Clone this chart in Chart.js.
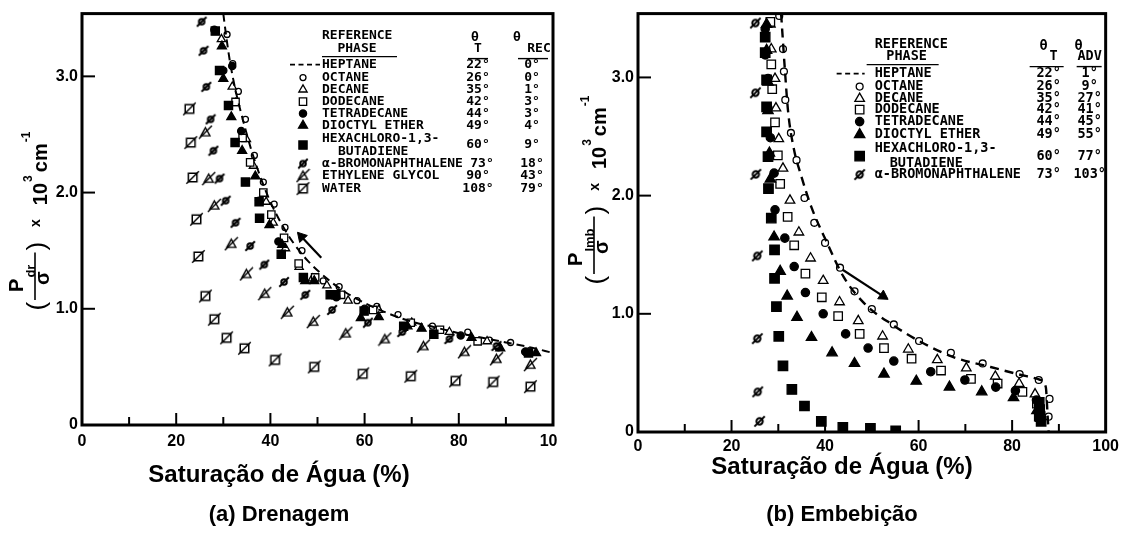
<!DOCTYPE html>
<html><head><meta charset="utf-8">
<script src="https://cdn.jsdelivr.net/npm/chart.js@4.4.0/dist/chart.umd.min.js"></script>
<style>
html,body{margin:0;padding:0;background:#fff;}
#wrap{position:relative;width:1126px;height:535px;overflow:hidden;background:#fff;}
#left{position:absolute;left:0;top:0;width:558px;height:535px;overflow:hidden;}
#right{position:absolute;left:558px;top:0;width:568px;height:535px;}
canvas{display:block;}
</style></head><body>
<div id="wrap">
  <div id="left"><canvas id="c1" width="580" height="535"></canvas></div>
  <div id="right"><canvas id="c2" width="568" height="535"></canvas></div>
</div>
<script>
// ================= DATA =================
const xAxisTitle = 'Saturação de Água (%)';
const drCaption = '(a) Drenagem';
const imCaption = '(b) Embebição';

// ---- (a) Drainage ----
const drHeptaneX = [30.0, 30.6, 31.4, 32.6, 34.2, 36.0, 38.0, 40.0, 42.5, 45.0, 48.0, 52.0, 56.0, 60.0, 65.0, 70.0, 75.0, 80.0, 85.0, 90.0, 95.0, 100];
const drHeptaneY = [3.54, 3.35, 3.13, 2.88, 2.62, 2.36, 2.12, 1.92, 1.72, 1.56, 1.41, 1.26, 1.14, 1.05, 0.96, 0.89, 0.84, 0.79, 0.75, 0.71, 0.67, 0.62];
const drOctaneX = [30.8, 32.0, 33.2, 34.7, 36.6, 38.5, 40.8, 43.1, 46.7, 51.2, 54.6, 58.4, 62.6, 67.1, 74.4, 81.9, 86.5, 91.0];
const drOctaneY = [3.36, 3.11, 2.87, 2.63, 2.32, 2.09, 1.90, 1.70, 1.50, 1.24, 1.19, 1.07, 1.02, 0.95, 0.85, 0.80, 0.73, 0.71];
const drDecaneX = [29.6, 31.9, 32.6, 34.9, 36.4, 39.1, 40.6, 43.2, 46.1, 48.9, 52.0, 56.5, 63.0, 70.0, 78.0, 86.0, 94.8];
const drDecaneY = [3.32, 2.91, 2.77, 2.46, 2.23, 1.92, 1.74, 1.52, 1.36, 1.26, 1.20, 1.07, 0.99, 0.88, 0.80, 0.72, 0.62];
const drDodecaneX = [32.6, 34.1, 35.7, 38.5, 40.2, 42.9, 46.0, 49.5, 55.0, 61.8, 69.8, 76.0, 84.0, 94.8];
const drDodecaneY = [2.78, 2.47, 2.26, 2.00, 1.81, 1.61, 1.39, 1.27, 1.12, 0.99, 0.88, 0.82, 0.72, 0.63];
const drTetradecaneX = [28.1, 30.0, 31.9, 33.8, 37.6, 41.7, 47.0, 54.0, 60.0, 68.3, 80.4, 88.4, 94.1];
const drTetradecaneY = [3.40, 3.05, 3.09, 2.53, 1.93, 1.58, 1.27, 1.10, 1.00, 0.83, 0.77, 0.67, 0.63];
const drDioctylX = [29.7, 30.0, 31.7, 34.0, 36.8, 39.8, 42.5, 47.4, 49.3, 59.2, 63.0, 69.1, 72.1, 82.7, 88.8, 96.4];
const drDioctylY = [3.26, 2.98, 2.65, 2.36, 2.14, 1.72, 1.55, 1.24, 1.24, 0.92, 0.93, 0.85, 0.83, 0.75, 0.66, 0.62];
const drHexachloroX = [28.3, 29.2, 31.1, 32.5, 34.7, 37.6, 37.7, 42.3, 47.0, 52.7, 53.9, 59.9, 68.3, 74.7, 94.8];
const drHexachloroY = [3.39, 3.05, 2.75, 2.43, 2.09, 1.92, 1.78, 1.47, 1.27, 1.12, 1.12, 0.98, 0.85, 0.78, 0.62];
const drBromoX = [25.4, 25.8, 26.4, 27.3, 27.9, 29.2, 30.5, 32.6, 35.7, 38.7, 42.9, 47.4, 53.1, 60.7, 68.0, 78.0, 88.0];
const drBromoY = [3.47, 3.22, 2.91, 2.63, 2.36, 2.12, 1.93, 1.74, 1.54, 1.38, 1.23, 1.12, 0.99, 0.88, 0.80, 0.74, 0.68];
const drGlycolX = [26.2, 26.9, 28.1, 31.7, 34.9, 38.8, 43.6, 49.1, 56.0, 64.3, 72.5, 81.2, 88.0, 95.2];
const drGlycolY = [2.52, 2.12, 1.89, 1.56, 1.30, 1.13, 0.97, 0.89, 0.79, 0.74, 0.68, 0.63, 0.57, 0.52];
const drWaterX = [22.8, 23.1, 23.5, 24.3, 24.7, 26.2, 28.1, 30.7, 34.5, 41.0, 49.3, 59.6, 69.8, 79.3, 87.3, 95.2];
const drWaterY = [2.72, 2.43, 2.13, 1.77, 1.45, 1.11, 0.91, 0.75, 0.66, 0.56, 0.50, 0.44, 0.42, 0.38, 0.37, 0.33];
const drArrowX = [50.8, 46.6];
const drArrowY = [1.44, 1.62];

// ---- (b) Imbibition ----
const imHeptaneX = [30.6, 31.4, 32.1, 33.3, 34.8, 37.1, 40.2, 44.0, 48.6, 54.7, 60.1, 67.7, 75.4, 82.2, 86.1, 87.2, 87.6, 87.8];
const imHeptaneY = [3.54, 3.07, 2.71, 2.40, 2.18, 1.90, 1.62, 1.31, 1.08, 0.90, 0.77, 0.63, 0.55, 0.48, 0.44, 0.38, 0.13, 0.0];
const imOctaneX = [30.2, 31.0, 31.2, 31.5, 32.7, 33.9, 35.6, 37.7, 40.0, 43.2, 46.3, 50.0, 54.7, 60.1, 66.9, 73.7, 81.6, 85.7, 88.0, 87.8];
const imOctaneY = [3.52, 3.24, 3.05, 2.81, 2.53, 2.30, 1.98, 1.77, 1.60, 1.39, 1.19, 1.04, 0.91, 0.77, 0.67, 0.58, 0.49, 0.44, 0.28, 0.13];
const imDecaneX = [28.3, 28.5, 29.3, 29.5, 30.1, 31.0, 32.5, 34.4, 36.9, 39.6, 43.1, 47.1, 52.3, 57.8, 64.0, 70.2, 76.4, 81.5, 84.9, 85.7];
const imDecaneY = [3.45, 3.24, 2.99, 2.74, 2.48, 2.23, 1.96, 1.69, 1.47, 1.28, 1.10, 0.94, 0.81, 0.70, 0.61, 0.54, 0.47, 0.41, 0.32, 0.20];
const imDodecaneX = [28.3, 28.5, 28.7, 29.3, 29.9, 30.4, 32.0, 33.4, 35.8, 39.3, 42.8, 47.4, 52.6, 58.5, 64.8, 71.2, 76.9, 82.2, 85.3, 85.7];
const imDodecaneY = [3.47, 3.11, 2.90, 2.62, 2.34, 2.10, 1.82, 1.58, 1.34, 1.14, 0.98, 0.83, 0.71, 0.62, 0.52, 0.45, 0.41, 0.34, 0.24, 0.13];
const imTetradecaneX = [27.2, 27.2, 27.8, 27.8, 28.3, 29.1, 29.3, 31.4, 33.4, 35.8, 39.6, 44.4, 49.2, 54.7, 62.6, 69.9, 76.5, 80.7, 85.2, 85.7];
const imTetradecaneY = [3.41, 3.19, 2.99, 2.74, 2.49, 2.19, 1.88, 1.64, 1.40, 1.18, 1.00, 0.83, 0.71, 0.60, 0.51, 0.44, 0.38, 0.35, 0.27, 0.15];
const imDioctylX = [27.5, 27.5, 27.8, 27.8, 28.1, 28.3, 29.1, 30.4, 31.9, 34.0, 37.1, 41.5, 46.3, 52.6, 59.5, 66.6, 73.5, 80.3, 85.3];
const imDioctylY = [3.45, 3.23, 2.96, 2.72, 2.36, 2.14, 1.65, 1.36, 1.15, 0.97, 0.80, 0.67, 0.58, 0.49, 0.43, 0.38, 0.34, 0.29, 0.18];
const imHexachloroX = [27.2, 27.2, 27.5, 27.5, 27.5, 27.8, 27.9, 28.5, 29.2, 29.2, 29.6, 30.1, 31.0, 32.9, 35.6, 39.2, 43.8, 49.7, 55.1, 85.8, 85.9, 86.0, 86.2];
const imHexachloroY = [3.34, 3.21, 2.98, 2.75, 2.54, 2.33, 2.06, 1.81, 1.54, 1.30, 1.06, 0.81, 0.56, 0.36, 0.22, 0.09, 0.04, 0.03, 0.01, 0.25, 0.19, 0.13, 0.09];
const imBromoX = [25.1, 25.1, 25.2, 25.5, 25.5, 25.6, 26.0];
const imBromoY = [3.46, 2.87, 2.18, 1.49, 0.79, 0.34, 0.09];
const imArrowX = [43.1, 52.4];
const imArrowY = [1.39, 1.15];

// ---- legend tables ----
const drLegendNames = ['HEPTANE', 'OCTANE', 'DECANE', 'DODECANE', 'TETRADECANE', 'DIOCTYL ETHER', ['HEXACHLORO-1,3-', 'BUTADIENE'], 'α-BROMONAPHTHALENE', 'ETHYLENE GLYCOL', 'WATER'];
const drThetaT = ['22°', '26°', '35°', '42°', '44°', '49°', '60°', '73°', '90°', '108°'];
const drThetaRec = ['0°', '0°', '1°', '3°', '3°', '4°', '9°', '18°', '43°', '79°'];
const imLegendNames = ['HEPTANE', 'OCTANE', 'DECANE', 'DODECANE', 'TETRADECANE', 'DIOCTYL ETHER', ['HEXACHLORO-1,3-', 'BUTADIENE'], 'α-BROMONAPHTHALENE'];
const imThetaT = ['22°', '26°', '35°', '42°', '44°', '49°', '60°', '73°'];
const imThetaAdv = ['1°', '9°', '27°', '41°', '45°', '55°', '77°', '103°'];
const xTickStep = 10;
const yTickStep = 1;

// ================= RENDERING =================
const FONT = '"Liberation Sans", Arial, Helvetica, sans-serif';
const LFONT = '"DejaVu Sans Mono", monospace';
Chart.defaults.font.family = FONT;
Chart.defaults.color = '#000';

function pts(xs, ys) { return xs.map((x, i) => ({x: x, y: ys[i]})); }

function slashCanvas(shape, s, lw, fill) {
  const pad = 3;
  const c = document.createElement('canvas');
  c.width = c.height = Math.ceil(s + 2 * pad);
  const g = c.getContext('2d');
  g.strokeStyle = '#000'; g.lineWidth = lw; g.fillStyle = fill || '#fff';
  const cx = c.width / 2, cy = c.height / 2, h = s / 2;
  g.beginPath();
  if (shape === 'circle') g.arc(cx, cy, h, 0, Math.PI * 2);
  else if (shape === 'rect') g.rect(cx - h, cy - h, s, s);
  else { g.moveTo(cx, cy - h); g.lineTo(cx + h, cy + h * 0.8); g.lineTo(cx - h, cy + h * 0.8); g.closePath(); }
  g.fill(); g.stroke();
  g.beginPath(); g.moveTo(cx - h - 2, cy + h + 2); g.lineTo(cx + h + 2, cy - h - 2); g.stroke();
  return c;
}

function markerStyles(k) {
  return {
    octane: {pointStyle: 'circle', radius: 3 * k, fill: '#fff'},
    decane: {pointStyle: 'triangle', radius: 4.8 * k, fill: '#fff'},
    dodecane: {pointStyle: 'rect', radius: 5.2 * k, fill: '#fff'},
    tetradecane: {pointStyle: 'circle', radius: 3.6 * k, fill: '#000'},
    dioctyl: {pointStyle: 'triangle', radius: 5.2 * k, fill: '#000'},
    hexachloro: {pointStyle: 'rect', radius: 5.8 * k, fill: '#000'},
    bromo: {pointStyle: slashCanvas('circle', 5.5 * k, 2, '#fff'), radius: 4 * k},
    glycol: {pointStyle: slashCanvas('triangle', 9 * k, 1.4), radius: 5 * k},
    water: {pointStyle: slashCanvas('rect', 8.5 * k, 1.5), radius: 5 * k}
  };
}

function scatterSet(data, st) {
  return {
    type: 'scatter', data: data, showLine: false,
    pointStyle: st.pointStyle, pointRadius: st.radius,
    pointBackgroundColor: st.fill || '#fff', pointBorderColor: '#000', pointBorderWidth: 1.3
  };
}
function lineSet(data, dash, width) {
  return {
    type: 'scatter', data: data, showLine: true, borderColor: '#000', borderWidth: width,
    borderDash: dash, pointRadius: 0, cubicInterpolationMode: 'monotone', fill: false
  };
}
function arrowSet(data, rot) {
  return {
    type: 'scatter', data: data, showLine: true, borderColor: '#000', borderWidth: 2.2,
    pointRadius: [0, 6], pointStyle: 'triangle', pointRotation: [0, rot],
    pointBackgroundColor: '#000', pointBorderColor: '#000', pointBorderWidth: 1
  };
}

function drawMarker(ctx, st, x, y) {
  ctx.save();
  ctx.fillStyle = st.fill || '#fff'; ctx.strokeStyle = '#000'; ctx.lineWidth = 1.3;
  if (Chart.helpers && Chart.helpers.drawPoint) {
    Chart.helpers.drawPoint(ctx, {pointStyle: st.pointStyle, radius: st.radius, rotation: 0, borderWidth: 1.3}, x, y);
  }
  ctx.restore();
}

const framePlugin = {
  id: 'frameTicks',
  afterDatasetsDraw(chart) {
    const {ctx, chartArea: a, scales} = chart;
    const x = scales.x, y = scales.y;
    ctx.save();
    ctx.strokeStyle = '#000'; ctx.lineWidth = 2;
    x.ticks.forEach(t => {
      const v = t.value; if (v <= 0 || v >= 100) return;
      const px = x.getPixelForValue(v), len = (v % 20 === 0) ? 12 : 8;
      ctx.beginPath(); ctx.moveTo(px, a.bottom); ctx.lineTo(px, a.bottom - len); ctx.stroke();
    });
    y.ticks.forEach(t => {
      const v = t.value; if (v <= 0) return;
      const py = y.getPixelForValue(v);
      ctx.beginPath(); ctx.moveTo(a.left, py); ctx.lineTo(a.left + 13, py); ctx.stroke();
    });
    ctx.lineWidth = 3;
    ctx.strokeRect(a.left, a.top, a.right - a.left, a.bottom - a.top);
    ctx.restore();
  }
};

function drawYTitle(ctx, bx, sy, sub) {
  ctx.save();
  ctx.translate(bx, sy); ctx.rotate(-Math.PI / 2);
  ctx.fillStyle = '#000'; ctx.strokeStyle = '#000';
  ctx.textBaseline = 'alphabetic'; ctx.textAlign = 'left';
  const F = (w, s) => w + ' ' + s + 'px ' + FONT;
  const meas = (t, f) => { ctx.font = f; return ctx.measureText(t).width; };
  const put = (t, f, x, y) => { ctx.font = f; ctx.fillText(t, x, y); return ctx.measureText(t).width; };
  let u = 0;
  u += put('(', F('normal', 26), u, -2) + 2;
  const barStart = u;
  const wP = meas('P', F('bold', 20)), wS = meas(sub, F('bold', 13));
  const nx = barStart + 8;
  put('P', F('bold', 20), nx, -24);
  put(sub, F('bold', 13), nx + wP + 1, -12);
  const numEnd = nx + wP + 1 + wS;
  const barEnd = numEnd + 12;
  ctx.lineWidth = 1.6;
  ctx.beginPath(); ctx.moveTo(barStart, -12); ctx.lineTo(barEnd, -12); ctx.stroke();
  const wSig = meas('σ', F('bold', 20));
  put('σ', F('bold', 20), (nx + numEnd) / 2 - wSig / 2, 2);
  u = barEnd + 2;
  u += put(')', F('normal', 26), u, -2) + 15;
  u += put('x', F('bold', 14), u, -7) + 14;
  u += put('10', F('bold', 20), u, 0) + 1;
  u += put('3', F('bold', 12), u, -15) + 3;
  u += put('cm', F('bold', 20), u, 0) + 1;
  put('-1', F('bold', 12), u, -17);
  ctx.restore();
}

const decorPlugin = {
  id: 'decor',
  afterDraw(chart, args, o) {
    const {ctx, chartArea: a} = chart;
    const R = a.right, T = a.top;
    ctx.save();
    ctx.fillStyle = '#000'; ctx.strokeStyle = '#000';
    const txt = (s, x, y, size, align) => {
      ctx.save(); ctx.font = 'bold ' + size + 'px ' + LFONT; ctx.textAlign = align; ctx.textBaseline = 'middle';
      ctx.translate(x, y); ctx.scale(o.sx, 1); ctx.fillText(s, 0, 0); ctx.restore();
    };
    const hl = (x0, x1, y) => { ctx.lineWidth = 1.4; ctx.beginPath(); ctx.moveTo(x0, y); ctx.lineTo(x1, y); ctx.stroke(); };
    const L = o.lay, fs = o.size;
    // header
    txt('REFERENCE', R + L.textX, T + L.hy1, fs, 'left');
    txt('PHASE', R + L.phaseX, T + L.hy2, fs, 'center');
    hl(R + L.ul[0], R + L.ul[1], T + L.hul);
    txt('θ', R + L.thT[0], T + L.hy1 + 2, fs, 'center');
    txt('T', R + L.thT[1], T + L.hy2, fs, 'center');
    hl(R + L.ulT[0], R + L.ulT[1], T + L.hul + 2);
    txt('θ', R + L.thR[0], T + L.hy1 + 2, fs, 'center');
    txt(o.colHead, R + L.thR[1], T + L.hy2, fs, 'center');
    hl(R + L.ulR[0], R + L.ulR[1], T + L.hul + 2);
    // rows
    o.names.forEach((nm, i) => {
      const ry = L.rows[i];
      let yMid;
      if (Array.isArray(nm)) {
        txt(nm[0], R + L.textX, T + ry[0], fs, 'left');
        txt(nm[1], R + L.indentX, T + ry[1], fs, 'left');
        yMid = T + (ry[0] + ry[1]) / 2;
      } else {
        txt(nm, R + L.textX, T + ry, fs, 'left');
        yMid = T + ry;
      }
      const key = o.keys[i];
      if (key === 'heptane') {
        ctx.save(); ctx.lineWidth = 1.8; ctx.setLineDash([5, 3.5]);
        ctx.beginPath(); ctx.moveTo(R + L.dash[0], yMid); ctx.lineTo(R + L.dash[1], yMid); ctx.stroke(); ctx.restore();
      } else {
        drawMarker(ctx, o.styles[key], R + L.symX, yMid);
      }
      txt(o.tVals[i], R + L.tCol + ((L.tShift && L.tShift[i]) || 0), yMid, fs, 'center');
      txt(o.rVals[i], R + L.rCol, yMid, fs, 'center');
    });
    // y title
    drawYTitle(ctx, a.left + o.yt.dx, a.top + o.yt.dy, o.yt.sub);
    // x title and caption
    ctx.textAlign = 'center'; ctx.textBaseline = 'middle';
    ctx.font = 'bold ' + o.bt.size + 'px ' + FONT;
    ctx.fillText(o.bt.title, o.bt.cx, o.bt.titleY);
    ctx.font = 'bold ' + o.bt.capSize + 'px ' + FONT;
    ctx.fillText(o.bt.caption, o.bt.cx, o.bt.capY);
    ctx.restore();
  }
};

const seriesKeys = ['heptane', 'octane', 'decane', 'dodecane', 'tetradecane', 'dioctyl', 'hexachloro', 'bromo', 'glycol', 'water'];

function baseScales(axisH, tickPad, yMax) {
  return {
    x: {
      type: 'linear', min: 0, max: 100,
      ticks: {stepSize: xTickStep, autoSkip: false, maxRotation: 0, padding: tickPad, color: '#000',
        font: {family: FONT, weight: 'bold', size: 16, lineHeight: 1},
        callback: v => (v % 20 === 0 ? String(v) : '')},
      grid: {display: false, drawTicks: false}, border: {display: false},
      afterFit: s => { s.height = axisH; }
    },
    y: {
      type: 'linear', min: 0, max: yMax,
      ticks: {stepSize: yTickStep, includeBounds: false, padding: 4, color: '#000',
        font: {family: FONT, weight: 'bold', size: 16},
        callback: v => (v === 0 ? '0' : v.toFixed(1))},
      grid: {display: false, drawTicks: false}, border: {display: false},
      afterFit: s => { s.width = 30; }
    }
  };
}

// ---------- Chart (a) ----------
const stA = markerStyles(1);
new Chart(document.getElementById('c1'), {
  type: 'scatter',
  data: {datasets: [
    lineSet(pts(drHeptaneX, drHeptaneY), [8, 5], 2),
    scatterSet(pts(drWaterX, drWaterY), stA.water),
    scatterSet(pts(drGlycolX, drGlycolY), stA.glycol),
    scatterSet(pts(drBromoX, drBromoY), stA.bromo),
    scatterSet(pts(drHexachloroX, drHexachloroY), stA.hexachloro),
    scatterSet(pts(drDioctylX, drDioctylY), stA.dioctyl),
    scatterSet(pts(drTetradecaneX, drTetradecaneY), stA.tetradecane),
    scatterSet(pts(drDodecaneX, drDodecaneY), stA.dodecane),
    scatterSet(pts(drDecaneX, drDecaneY), stA.decane),
    scatterSet(pts(drOctaneX, drOctaneY), stA.octane),
    arrowSet(pts(drArrowX, drArrowY), -42)
  ]},
  options: {
    responsive: false, animation: false, events: [],
    layout: {padding: {left: 52, right: 27, top: 8, bottom: 32.6}},
    scales: baseScales(77.4, 9, 3.54),
    plugins: {
      legend: {display: false}, tooltip: {enabled: false},
      decor: {
        names: drLegendNames, tVals: drThetaT, rVals: drThetaRec, keys: seriesKeys, styles: stA,
        colHead: 'REC', size: 13, sx: 1.0,
        lay: {textX: -231, indentX: -215, phaseX: -196, ul: [-231, -156], hy1: 22, hy2: 35, hul: 43,
          thT: [-78, -75], ulT: [-85, -65], thR: [-36, -14], ulR: [-35, -5],
          symX: -250, dash: [-263, -233], tCol: -75, rCol: -21, tShift: [0, 0, 0, 0, 0, 0, 0, 4, 0, 0],
          rows: [51, 64, 76, 88, 100, 112, [125, 138], 150, 162, 175]},
        yt: {dx: -35, dy: 297, sub: 'dr'},
        bt: {title: xAxisTitle, caption: drCaption, size: 24, capSize: 22, cx: 279, titleY: 475, capY: 515}
      }
    }
  },
  plugins: [framePlugin, decorPlugin]
});

// ---------- Chart (b) ----------
const stB = markerStyles(1.15);
const imKeys = seriesKeys.slice(0, 8);
new Chart(document.getElementById('c2'), {
  type: 'scatter',
  data: {datasets: [
    lineSet(pts(imHeptaneX, imHeptaneY), [9, 6], 2.4),
    scatterSet(pts(imBromoX, imBromoY), stB.bromo),
    scatterSet(pts(imHexachloroX, imHexachloroY), stB.hexachloro),
    scatterSet(pts(imDioctylX, imDioctylY), stB.dioctyl),
    scatterSet(pts(imTetradecaneX, imTetradecaneY), stB.tetradecane),
    scatterSet(pts(imDodecaneX, imDodecaneY), stB.dodecane),
    scatterSet(pts(imDecaneX, imDecaneY), stB.decane),
    scatterSet(pts(imOctaneX, imOctaneY), stB.octane),
    arrowSet(pts(imArrowX, imArrowY), 123)
  ]},
  options: {
    responsive: false, animation: false, events: [],
    layout: {padding: {left: 50, right: 17, top: 12, bottom: 32.6}},
    scales: baseScales(70.4, 7, 3.54),
    plugins: {
      legend: {display: false}, tooltip: {enabled: false},
      decor: {
        names: imLegendNames, tVals: imThetaT, rVals: imThetaAdv, keys: imKeys, styles: stB,
        colHead: 'ADV', size: 13.5, sx: 1.0,
        lay: {textX: -231, indentX: -216, phaseX: -199, ul: [-239, -167], hy1: 31, hy2: 43, hul: 51,
          thT: [-62, -52], ulT: [-76, -42], thR: [-27, -16], ulR: [-29, -4],
          symX: -246, dash: [-269, -241], tCol: -57, rCol: -16,
          rows: [60, 73, 85, 96, 108, 121, [135, 150], 161]},
        yt: {dx: -32, dy: 271, sub: 'Imb'},
        bt: {title: xAxisTitle, caption: imCaption, size: 24, capSize: 22, cx: 284, titleY: 467, capY: 515}
      }
    }
  },
  plugins: [framePlugin, decorPlugin]
});
</script>
</body></html>
